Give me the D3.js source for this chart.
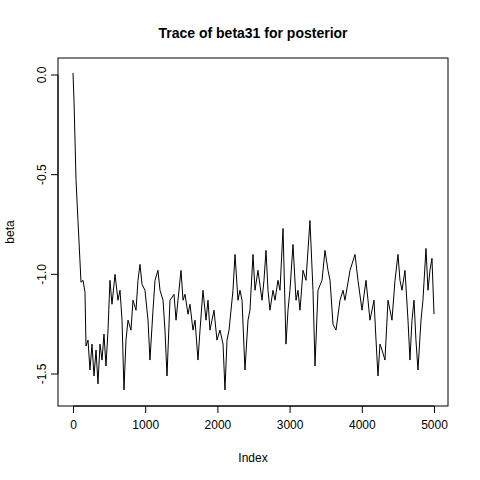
<!DOCTYPE html><html><head><meta charset="utf-8"><script src="https://cdn.jsdelivr.net/npm/d3@7"></script>
<style>body{margin:0;background:#fff}text{font-family:"Liberation Sans",Arial,sans-serif}</style></head><body>
<svg id="c" width="480" height="480"></svg>
<script>
const idx=[0,14,42,69,111,139,166,180,208,235,263,291,319,346,374,402,429,457,485,512,540,582,623,651,679,706,734,762,803,831,873,900,928,956,997,1039,1066,1108,1136,1177,1205,1247,1274,1302,1343,1399,1427,1454,1496,1524,1551,1593,1620,1662,1690,1731,1759,1800,1842,1870,1897,1953,1994,2036,2078,2105,2133,2161,2216,2244,2285,2313,2341,2382,2424,2451,2493,2521,2562,2618,2645,2673,2701,2728,2770,2798,2839,2867,2909,2950,2978,3005,3047,3089,3116,3144,3186,3227,3282,3324,3352,3393,3449,3490,3532,3560,3601,3643,3698,3740,3767,3837,3906,3947,4003,4058,4086,4113,4169,4197,4224,4252,4280,4321,4363,4391,4418,4460,4501,4529,4557,4598,4640,4667,4695,4723,4750,4778,4820,4847,4889,4917,4944,4972,5000];
const beta=[0.01,-0.13,-0.53,-0.73,-1.04,-1.03,-1.09,-1.36,-1.33,-1.48,-1.35,-1.51,-1.38,-1.55,-1.35,-1.43,-1.30,-1.46,-1.28,-1.03,-1.15,-1.00,-1.13,-1.08,-1.23,-1.58,-1.33,-1.23,-1.28,-1.13,-1.18,-1.03,-0.95,-1.05,-1.08,-1.23,-1.43,-1.18,-1.03,-0.98,-1.08,-1.13,-1.28,-1.51,-1.13,-1.10,-1.23,-1.13,-0.98,-1.13,-1.10,-1.20,-1.15,-1.28,-1.23,-1.43,-1.28,-1.08,-1.23,-1.13,-1.28,-1.18,-1.33,-1.28,-1.35,-1.58,-1.33,-1.28,-1.08,-0.90,-1.13,-1.08,-1.13,-1.48,-1.23,-1.18,-0.90,-1.08,-0.98,-1.13,-1.03,-0.88,-1.08,-1.18,-1.08,-1.13,-1.03,-1.08,-0.77,-1.35,-1.18,-1.08,-0.85,-1.13,-1.08,-1.18,-0.98,-1.03,-0.73,-1.08,-1.46,-1.08,-1.03,-0.88,-0.98,-1.03,-1.25,-1.28,-1.13,-1.08,-1.13,-0.98,-0.90,-1.03,-1.18,-1.03,-1.13,-1.23,-1.13,-1.33,-1.51,-1.35,-1.38,-1.43,-1.13,-1.18,-1.23,-1.03,-0.90,-1.03,-1.08,-0.98,-1.23,-1.43,-1.23,-1.13,-1.33,-1.48,-1.23,-1.13,-0.87,-1.08,-0.98,-0.92,-1.20];
const xTicks=[0,1000,2000,3000,4000,5000];
const yTicks=[0,-0.5,-1,-1.5];
const svg=d3.select("#c");
const L=58,R=448,T=58,B=406;
const x=d3.scaleLinear().domain([0,5000]).range([73,434]);
const y=d3.scaleLinear().domain([0,-1.5]).range([75,374]);
svg.append("rect").attr("x",L).attr("y",T).attr("width",R-L).attr("height",B-T).attr("fill","none").attr("stroke","#000");
svg.append("path").datum(idx.map((d,i)=>[d,beta[i]])).attr("fill","none").attr("stroke","#000").attr("stroke-width",1)
 .attr("d",d3.line().x(d=>x(d[0])).y(d=>y(d[1])));
const xa=svg.append("g").attr("transform",`translate(0,${B})`).call(d3.axisBottom(x).tickValues(xTicks).tickSize(7).tickSizeOuter(0).tickFormat(d3.format("d")));
const ya=svg.append("g").attr("transform",`translate(${L},0)`).call(d3.axisLeft(y).tickValues(yTicks).tickSize(7).tickSizeOuter(0).tickFormat(d=>d.toFixed(1)));
[xa,ya].forEach(a=>{a.selectAll("text").attr("font-size",12).attr("fill","#000");a.select(".domain").attr("stroke","#000");});
xa.select(".domain").attr("d",`M${x(0)},0H${x(5000)}`);
ya.select(".domain").attr("d",`M0,${y(0)}V${y(-1.5)}`);
xa.selectAll("text").attr("dy","1.1em");
ya.selectAll(".tick").attr("transform",null);
ya.selectAll(".tick line").attr("transform",d=>`translate(0,${y(d)})`);
ya.selectAll("text").attr("text-anchor","middle").attr("x",0).attr("dy",0).attr("y",0)
 .attr("transform",d=>`translate(-12,${y(d)}) rotate(-90)`);
svg.append("text").attr("x",253).attr("y",38).attr("text-anchor","middle").attr("font-weight","bold").attr("font-size",14).text("Trace of beta31 for posterior");
svg.append("text").attr("x",253).attr("y",462).attr("text-anchor","middle").attr("font-size",12).text("Index");
svg.append("text").attr("transform","translate(14,232) rotate(-90)").attr("text-anchor","middle").attr("font-size",12).text("beta");
</script></body></html>
